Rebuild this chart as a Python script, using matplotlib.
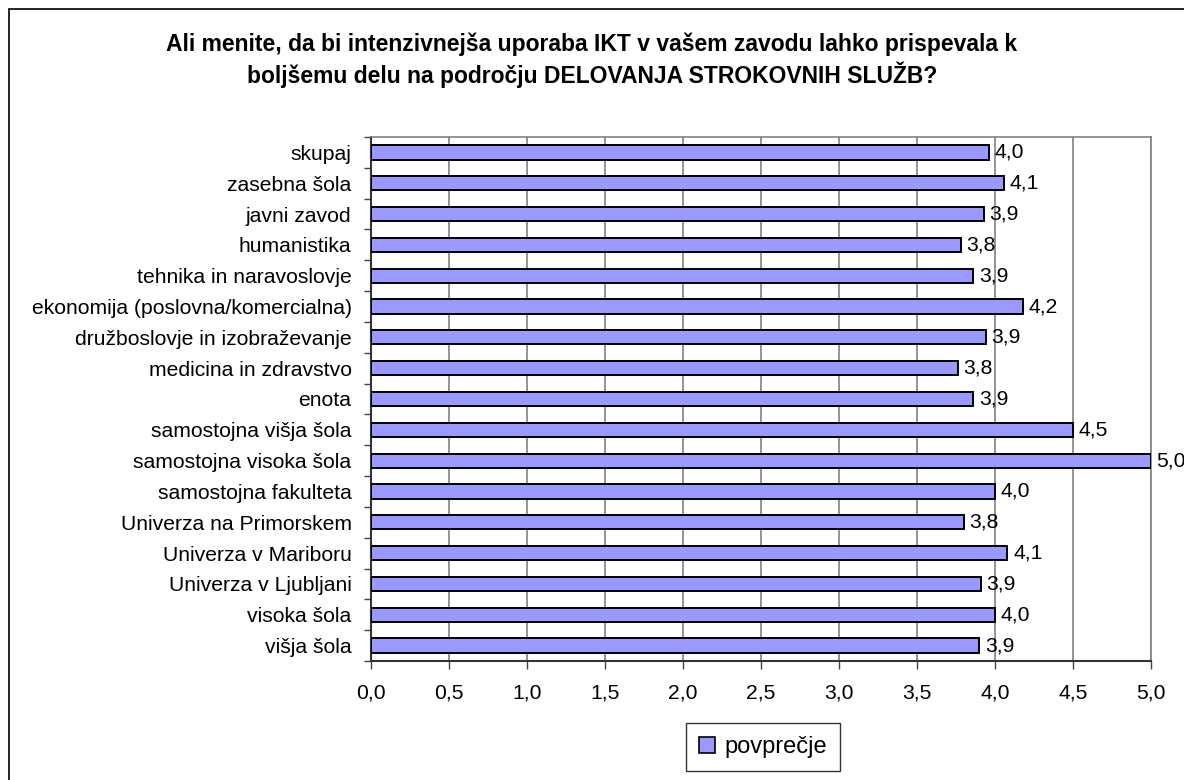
import matplotlib
matplotlib.use("Agg")
import matplotlib.pyplot as plt
from matplotlib.patches import Rectangle
from matplotlib.ticker import FixedLocator

plt.rcParams['font.family'] = ['Liberation Sans', 'DejaVu Sans']

categories = [
    "skupaj", "zasebna šola", "javni zavod", "humanistika",
    "tehnika in naravoslovje", "ekonomija (poslovna/komercialna)",
    "družboslovje in izobraževanje", "medicina in zdravstvo", "enota",
    "samostojna višja šola", "samostojna visoka šola", "samostojna fakulteta",
    "Univerza na Primorskem", "Univerza v Mariboru", "Univerza v Ljubljani",
    "visoka šola", "višja šola",
]
values = [3.96, 4.06, 3.93, 3.78, 3.86, 4.18, 3.94, 3.76, 3.86,
          4.50, 5.00, 4.00, 3.80, 4.08, 3.91, 4.00, 3.90]
xticks = [0.0, 0.5, 1.0, 1.5, 2.0, 2.5, 3.0, 3.5, 4.0, 4.5, 5.0]
title = ("Ali menite, da bi intenzivnejša uporaba IKT v vašem zavodu lahko prispevala k\n"
         "boljšemu delu na področju DELOVANJA STROKOVNIH SLUŽB?")
series_name = "povprečje"

W, H = 1184, 780
fig = plt.figure(figsize=(W / 100, H / 100), dpi=100)
fig.patch.set_facecolor("white")

# outer chart frame (left/top visible, right/bottom beyond the image)
fig.add_artist(Rectangle((9 / W, -0.05), 1.2, 1 - 9 / H + 0.05, transform=fig.transFigure,
                         fill=False, edgecolor="black", linewidth=1.2))

ax = fig.add_axes([371 / W, 1 - 661 / H, (1151 - 371) / W, (661 - 137) / H])

n = len(categories)
ypos = list(range(n))
ax.barh(ypos, values, height=0.46, color="#9999FF", edgecolor="black", linewidth=1.4, zorder=3)

ax.set_xlim(0, 5)
ax.set_ylim(n - 0.5, -0.5)
ax.set_yticks(ypos)
ax.set_yticklabels(categories, fontsize=15.2)
ax.yaxis.set_minor_locator(FixedLocator([i - 0.5 for i in range(n + 1)]))
ax.tick_params(axis="y", which="major", length=0, pad=14)
ax.tick_params(axis="y", which="minor", length=5, width=1, color="#444444", direction="out")
ax.set_xticks(xticks)
ax.set_xticklabels([f"{t:.1f}".replace(".", ",") for t in xticks], fontsize=15.2)
ax.tick_params(axis="x", length=6, width=1, color="#444444", direction="out", pad=10)

ax.grid(axis="x", color="#808080", linewidth=1.2, zorder=0)
for s in ["top", "right"]:
    ax.spines[s].set_color("#808080")
    ax.spines[s].set_linewidth(1.2)
for s in ["left", "bottom"]:
    ax.spines[s].set_color("#333333")
    ax.spines[s].set_linewidth(1.5)

for y, v in zip(ypos, values):
    ax.annotate(f"{v:.1f}".replace(".", ","), xy=(v, y), xytext=(4, 0),
                textcoords="offset points", ha="left", va="center", fontsize=15.2, zorder=4)

fig.text(0.5, 1 - 60 / H, title, ha="center", va="center", fontsize=16.5,
         fontweight="bold", linespacing=1.25)

handle = Rectangle((0, 0), 1, 1, facecolor="#9999FF", edgecolor="black", linewidth=1.2)
leg = fig.legend([handle], [series_name], loc="center", bbox_to_anchor=(763 / W, 1 - 747 / H),
                 fontsize=17, frameon=True, fancybox=False, edgecolor="black",
                 handlelength=0.65, handleheight=0.65, handletextpad=0.4, borderpad=0.55)
leg.get_frame().set_linewidth(1.0)

fig.savefig("out.png", dpi=100)
